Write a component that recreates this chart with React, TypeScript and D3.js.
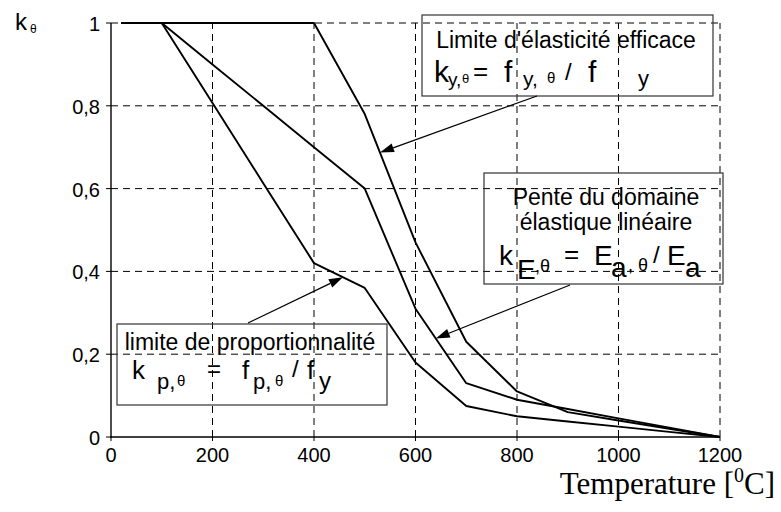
import React from "react";
import * as d3 from "d3";

// Reduction factors of carbon steel at elevated temperature
const temperatures = [20, 100, 200, 300, 400, 500, 600, 700, 800, 900, 1000, 1100, 1200];
const kYield = [1, 1, 1, 1, 1, 0.78, 0.47, 0.23, 0.11, 0.06, 0.04, 0.02, 0];
const kProp = [1, 1, 0.807, 0.613, 0.42, 0.36, 0.18, 0.075, 0.05, 0.0375, 0.025, 0.0125, 0];
const kElastic = [1, 1, 0.9, 0.8, 0.7, 0.6, 0.31, 0.13, 0.09, 0.0675, 0.045, 0.0225, 0];

const xTickValues = [0, 200, 400, 600, 800, 1000, 1200];
const yTickValues = [0, 0.2, 0.4, 0.6, 0.8, 1];
const yTickLabels = ["0", "0,2", "0,4", "0,6", "0,8", "1"];

const W = 781;
const H = 512;
const SANS = "'Liberation Sans', Arial, Helvetica, sans-serif";
const SERIF = "'Liberation Serif', 'Times New Roman', serif";

type Piece = { t: string; x: number; y: number; s: number };

function Arrow({ x1, y1, x2, y2 }: { x1: number; y1: number; x2: number; y2: number }) {
  const ang = Math.atan2(y2 - y1, x2 - x1);
  const len = 14;
  const hw = 4.5;
  const bx = x2 - len * Math.cos(ang);
  const by = y2 - len * Math.sin(ang);
  const px = -Math.sin(ang) * hw;
  const py = Math.cos(ang) * hw;
  return (
    <g>
      <line x1={x1} y1={y1} x2={bx} y2={by} stroke="#000" strokeWidth={1.2} />
      <polygon points={`${x2},${y2} ${bx + px},${by + py} ${bx - px},${by - py}`} fill="#000" />
    </g>
  );
}

function Pieces({ items }: { items: Piece[] }) {
  return (
    <g fontFamily={SANS} fill="#000">
      {items.map((p, i) => (
        <text key={i} x={p.x} y={p.y} fontSize={p.s}>
          {p.t}
        </text>
      ))}
    </g>
  );
}

export default function App() {
  const x = d3.scaleLinear().domain([0, 1200]).range([111, 720]);
  const y = d3.scaleLinear().domain([0, 1]).range([437, 23]);

  const line = d3
    .line<number>()
    .x((_, i) => x(temperatures[i]))
    .y((d) => y(d));

  const at = (series: number[], t: number) => d3.scaleLinear(temperatures, series)(t);

  const gridDash = "7,5";

  const kyFormula: Piece[] = [
    { t: "k", x: 434, y: 82, s: 30 },
    { t: "y,", x: 448, y: 86, s: 19 },
    { t: "θ", x: 462, y: 83, s: 13 },
    { t: "=", x: 473, y: 80, s: 26 },
    { t: "f", x: 504, y: 82, s: 30 },
    { t: "y,", x: 523, y: 86, s: 21 },
    { t: "θ", x: 547, y: 83, s: 15 },
    { t: "/", x: 565, y: 80, s: 24 },
    { t: "f", x: 588, y: 82, s: 30 },
    { t: "y", x: 638, y: 86, s: 22 },
  ];

  const kEFormula: Piece[] = [
    { t: "k", x: 499, y: 265, s: 28 },
    { t: "E", x: 517, y: 279, s: 28 },
    { t: ",θ", x: 535, y: 272, s: 18 },
    { t: "=", x: 564, y: 263, s: 26 },
    { t: "E", x: 594, y: 265, s: 28 },
    { t: "a", x: 611, y: 277, s: 28 },
    { t: ", θ", x: 628, y: 271, s: 18 },
    { t: "/", x: 653, y: 263, s: 24 },
    { t: "E", x: 667, y: 265, s: 28 },
    { t: "a", x: 685, y: 277, s: 28 },
  ];

  const kpFormula: Piece[] = [
    { t: "k", x: 132, y: 379, s: 26 },
    { t: "p,", x: 157, y: 389, s: 22 },
    { t: "θ", x: 177, y: 386, s: 15 },
    { t: "=", x: 207, y: 377, s: 24 },
    { t: "f", x: 242, y: 379, s: 26 },
    { t: "p,", x: 253, y: 389, s: 22 },
    { t: "θ", x: 275, y: 386, s: 15 },
    { t: "/", x: 292, y: 377, s: 24 },
    { t: "f", x: 307, y: 379, s: 26 },
    { t: "y", x: 319, y: 389, s: 24 },
  ];

  const tY = 530;
  const tE = 640;
  const tP = 457;

  return (
    <div style={{ position: "absolute", left: 0, top: 0 }}>
      <svg width={W} height={H} style={{ display: "block", background: "#fff" }}>
        <rect x={0} y={0} width={W} height={H} fill="#fff" />

        {/* dashed grid */}
        <g stroke="#000" strokeWidth={1} strokeDasharray={gridDash} fill="none">
          {xTickValues.filter((v) => v > 0).map((v) => (
            <line key={`gx${v}`} x1={x(v)} x2={x(v)} y1={y(0)} y2={y(1)} />
          ))}
          {yTickValues.filter((v) => v > 0).map((v) => (
            <line key={`gy${v}`} x1={x(0)} x2={x(1200)} y1={y(v)} y2={y(v)} />
          ))}
        </g>

        {/* axes */}
        <g stroke="#000" strokeWidth={1.4}>
          <line x1={x(0)} x2={x(0)} y1={y(0) + 1} y2={y(1)} />
          <line x1={x(0) - 1} x2={x(1200)} y1={y(0)} y2={y(0)} />
          {yTickValues.map((v) => (
            <line key={`ty${v}`} x1={x(0) - 5} x2={x(0)} y1={y(v)} y2={y(v)} strokeWidth={1} />
          ))}
          {xTickValues.map((v) => (
            <line key={`tx${v}`} x1={x(v)} x2={x(v)} y1={y(0)} y2={y(0) + 4} strokeWidth={1} />
          ))}
        </g>

        {/* tick labels */}
        <g fontFamily={SANS} fontSize={20} fill="#000">
          {yTickValues.map((v, i) => (
            <text key={`ly${v}`} x={x(0) - 11} y={y(v) + 8} textAnchor="end">
              {yTickLabels[i]}
            </text>
          ))}
          {xTickValues.map((v) => (
            <text key={`lx${v}`} x={x(v)} y={y(0) + 25} textAnchor="middle">
              {v}
            </text>
          ))}
        </g>

        {/* reduction factor curves */}
        <g fill="none" stroke="#000" strokeWidth={1.9} strokeLinejoin="round">
          <path d={line(kYield) ?? ""} />
          <path d={line(kElastic) ?? ""} />
          <path d={line(kProp) ?? ""} />
        </g>

        {/* axis titles */}
        <text x={15} y={30} fontFamily={SANS} fontSize={24}>
          k
        </text>
        <text x={30} y={33} fontFamily={SANS} fontSize={12}>
          θ
        </text>
        <text x={775} y={494} fontFamily={SERIF} fontSize={31} textAnchor="end">
          Temperature [<tspan dy={-12} fontSize={20}>0</tspan>
          <tspan dy={12}>C]</tspan>
        </text>

        {/* annotation boxes */}
        <g fill="none" stroke="#333" strokeWidth={1.2}>
          <rect x={422} y={15} width={291} height={81} />
          <rect x={484} y={173} width={239} height={111} />
          <rect x={117} y={324} width={270} height={81} />
        </g>

        <g fontFamily={SANS} fontSize={23} fill="#000" textAnchor="middle">
          <text x={566} y={48}>Limite d'élasticité efficace</text>
          <text x={606} y={205}>Pente du domaine</text>
          <text x={606} y={230}>élastique linéaire</text>
          <text x={250} y={350}>limite de proportionnalité</text>
        </g>

        <Pieces items={kyFormula} />
        <Pieces items={kEFormula} />
        <Pieces items={kpFormula} />

        {/* leader arrows */}
        <Arrow x1={537} y1={96} x2={x(tY)} y2={y(at(kYield, tY))} />
        <Arrow x1={570} y1={285} x2={x(tE)} y2={y(at(kElastic, tE))} />
        <Arrow x1={248} y1={323} x2={x(tP)} y2={y(at(kProp, tP))} />
      </svg>
    </div>
  );
}
